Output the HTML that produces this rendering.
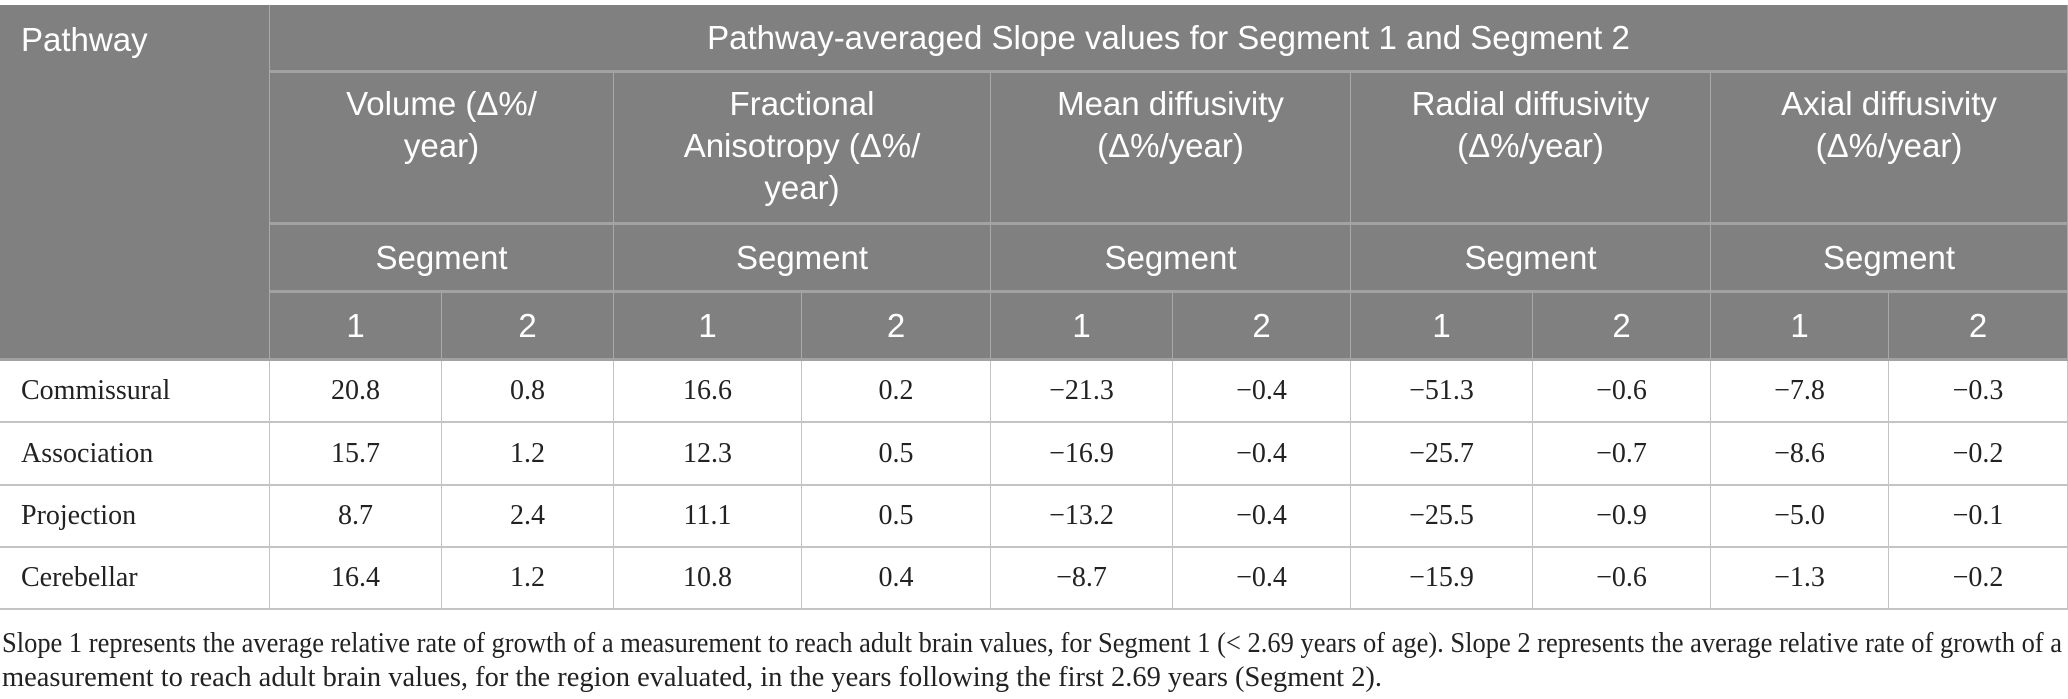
<!DOCTYPE html>
<html><head><meta charset="utf-8">
<style>
html,body{margin:0;padding:0;background:#fff;}
body{width:2068px;height:699px;position:relative;overflow:hidden;}
.c{position:absolute;box-sizing:border-box;display:flex;align-items:center;justify-content:center;text-align:center;}
.h{background:#808080;color:#fff;font-family:"Liberation Sans","DejaVu Sans",sans-serif;font-size:33px;line-height:42px;border-right:1px solid #a9a9a9;border-bottom:3px solid #a2a2a2;}
.d{background:#fff;color:#222;font-family:"Liberation Serif",serif;font-size:28px;border-right:1.5px solid #c4c4c4;border-bottom:2px solid #c4c4c4;}
.l{justify-content:flex-start;padding-left:21px;}
.fn{position:absolute;left:2px;font-family:"Liberation Serif",serif;font-size:28px;color:#222;white-space:nowrap;transform-origin:0 50%;}
</style></head><body>
<div id="t"></div>
<div class="fn" id="f1" style="top:628px">Slope 1 represents the average relative rate of growth of a measurement to reach adult brain values, for Segment 1 (&lt; 2.69 years of age). Slope 2 represents the average relative rate of growth of a</div>
<div class="fn" id="f2" style="top:662px">measurement to reach adult brain values, for the region evaluated, in the years following the first 2.69 years (Segment 2).</div>
<script>
const pathways=["Commissural","Association","Projection","Cerebellar"];
const metrics=["Volume (Δ%/<br>year)","Fractional<br>Anisotropy (Δ%/<br>year)","Mean diffusivity<br>(Δ%/year)","Radial diffusivity<br>(Δ%/year)","Axial diffusivity<br>(Δ%/year)"];
const values=[
["20.8","0.8","16.6","0.2","−21.3","−0.4","−51.3","−0.6","−7.8","−0.3"],
["15.7","1.2","12.3","0.5","−16.9","−0.4","−25.7","−0.7","−8.6","−0.2"],
["8.7","2.4","11.1","0.5","−13.2","−0.4","−25.5","−0.9","−5.0","−0.1"],
["16.4","1.2","10.8","0.4","−8.7","−0.4","−15.9","−0.6","−1.3","−0.2"]];
const X=[0,270,442,614,802,991,1173,1351,1533,1711,1889,2068];
const Y=[5,73,225,293,361,423,486,548,610];
const t=document.getElementById('t');
function cell(cls,x0,x1,y0,y1,html,name){
  const e=document.createElement('div');
  e.className='c '+cls;
  e.style.left=x0+'px';e.style.top=y0+'px';e.style.width=(x1-x0)+'px';e.style.height=(y1-y0)+'px';
  e.innerHTML=html;
  
  
  t.appendChild(e);return e;
}
const p=cell('h l',X[0],X[1],Y[0],Y[4],'Pathway','pathway-header');
p.style.alignItems='flex-start';p.style.paddingTop='14px';
cell('h',X[1],X[11],Y[0],Y[1],'Pathway-averaged Slope values for Segment 1 and Segment 2','group-header');
for(let m=0;m<5;m++){
  const a=X[1+2*m],b=X[3+2*m];
  const mh=cell('h',a,b,Y[1],Y[2],metrics[m],'metric-header');
  mh.style.alignItems='flex-start';mh.style.paddingTop='10px';
  cell('h',a,b,Y[2],Y[3],'Segment','segment-header');
  cell('h',a,X[2+2*m],Y[3],Y[4],'1','segment-1-header');
  cell('h',X[2+2*m],b,Y[3],Y[4],'2','segment-2-header');
}
for(let r=0;r<pathways.length;r++){
  cell('d l',X[0],X[1],Y[4+r],Y[5+r],pathways[r],'pathway-label');
  for(let c=0;c<10;c++){
    cell('d',X[1+c],X[2+c],Y[4+r],Y[5+r],values[r][c],'value-cell');
  }
}
['f1','f2'].forEach((id,i)=>{
  const e=document.getElementById(id);
  const w=e.getBoundingClientRect().width;
  const target=i==0?2060:1380;
  e.style.transform='scaleX('+(target/w)+')';
});
</script>
</body></html>
